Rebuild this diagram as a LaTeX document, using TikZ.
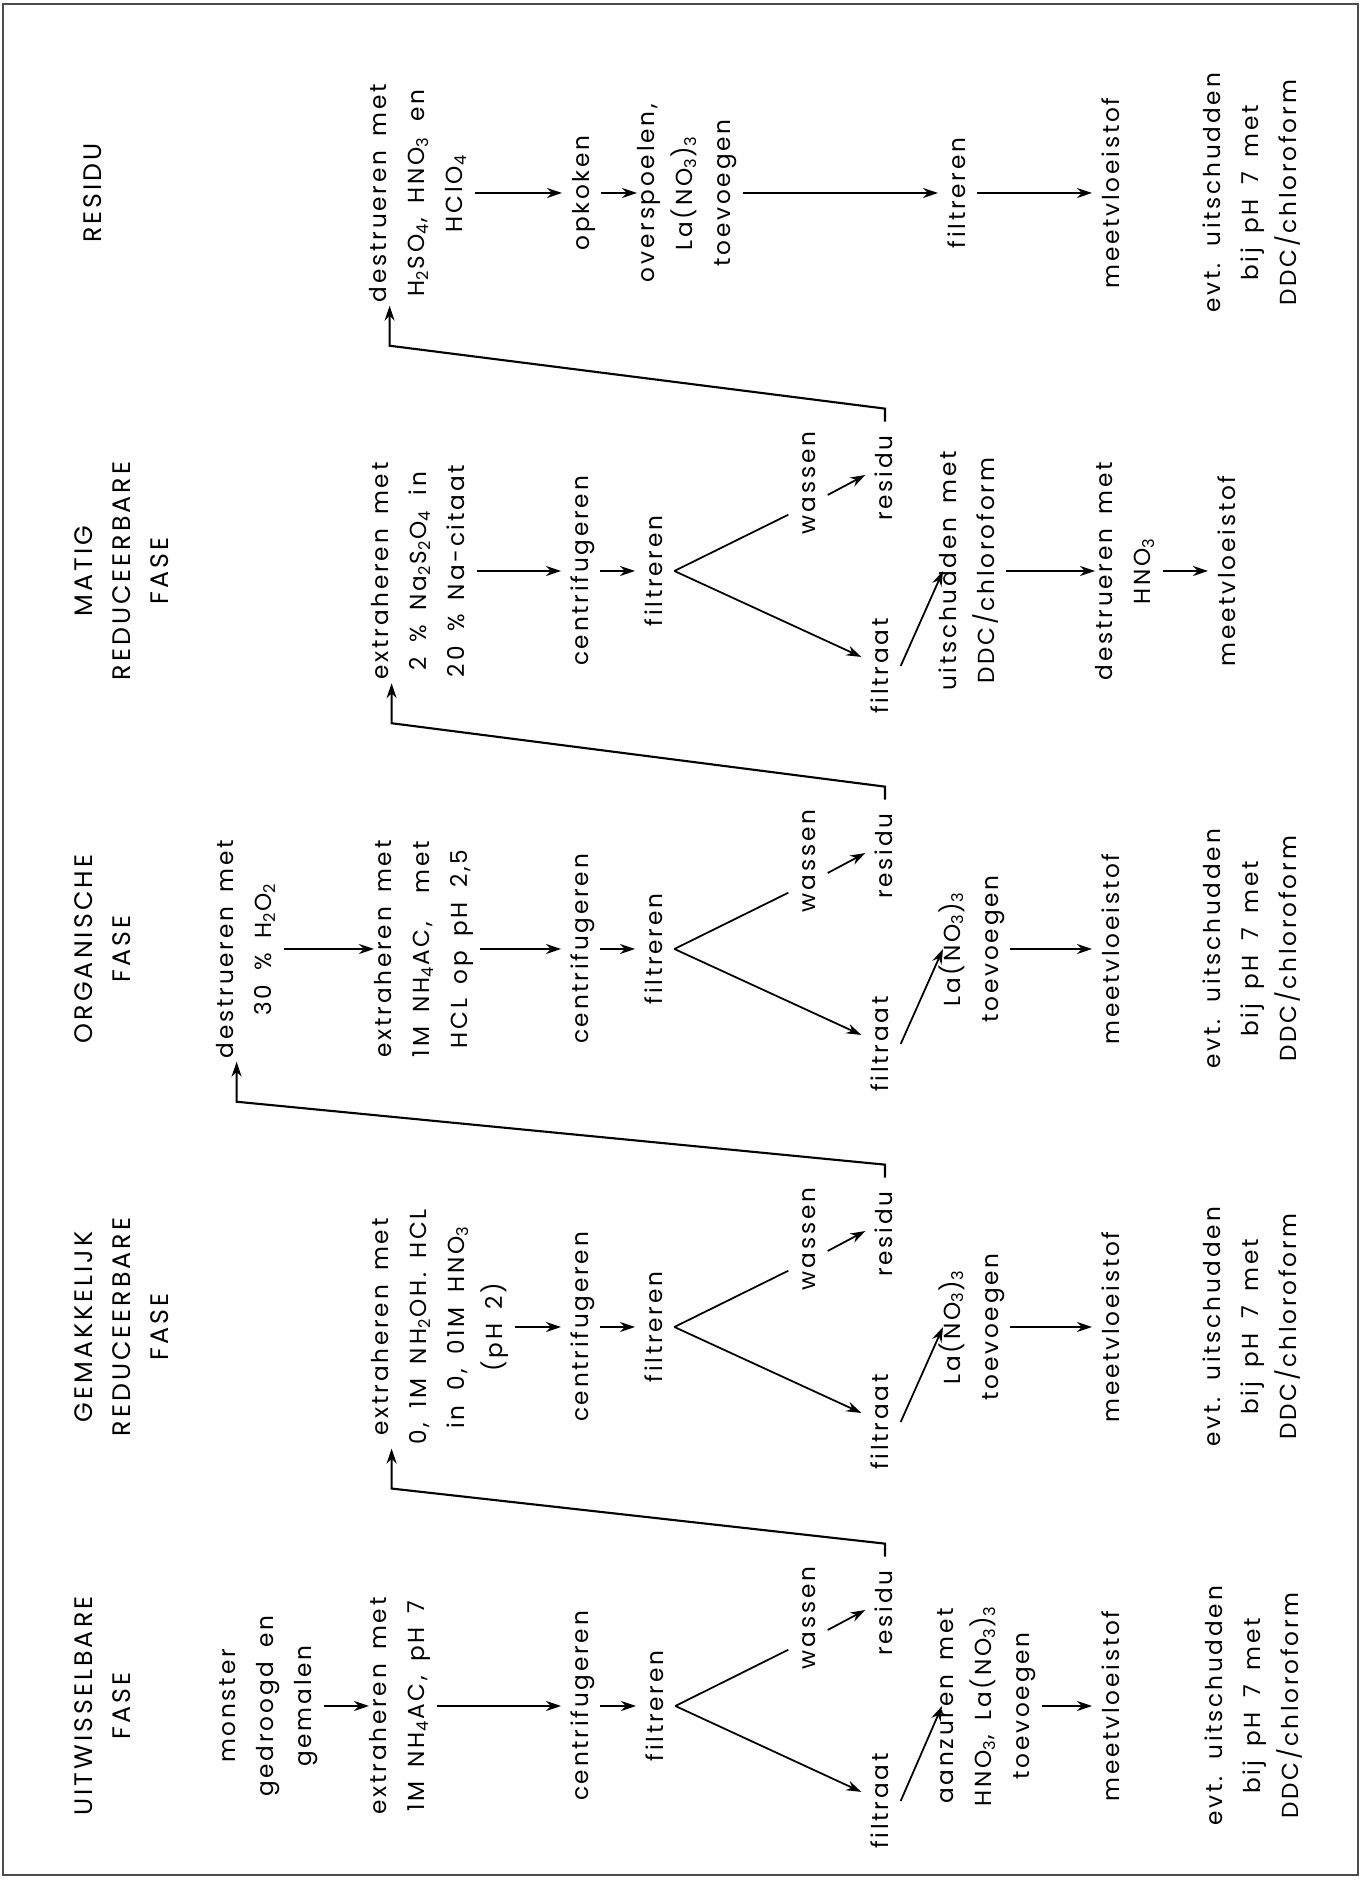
\documentclass[tikz,border=0pt]{standalone}
\usepackage{fontspec}
\setmainfont{Poppins}[LetterSpace=12,WordSpace=1.6]
\usetikzlibrary{arrows.meta}
\newcommand\stapfont{\fontsize{6.6}{10.8}\selectfont}
\newcommand\kopfont{\fontsize{7.2}{10.8}\selectfont}
\newcommand\chsub[1]{\textsubscript{#1}}
\begin{document}
\begin{tikzpicture}[x=1mm,y=1mm,rotate=90,transform shape,
  stap/.style={inner sep=0pt,align=center,font=\stapfont,
    execute at begin node=\strut,execute at end node=\strut},
  kop/.style={stap,font=\kopfont},
  residu/.style={stap,inner xsep=1.3mm},
  pijl/.style={-{Stealth[length=1.5mm,width=1mm]},line width=0.5pt},
  tak/.style={line width=0.5pt},
  terug/.style={pijl,line width=0.6pt,shorten >=0.3mm}]
\useasboundingbox (0,-136.7) rectangle (188.2,0);
\draw[line width=0.8pt,black!70] (0.7,-135.8) rectangle (187.8,-0.3);

% uitwisselbare fase
\node[kop,anchor=north] (k1) at (17.6,-7.4) {UITWISSELBARE\\FASE};
\node[stap,anchor=north] (m1) at (17.6,-21.9) {monster\\gedroogd en\\gemalen};
\node[stap,anchor=north] (e1) at (17.6,-36.9) {extraheren met\\1M NH\chsub{4}AC, pH 7};
\node[stap,anchor=north] (c1) at (17.6,-56.1) {centrifugeren};
\node[stap,anchor=north] (f1) at (17.6,-63.6) {filtreren};
\node[stap] (w1) at (26.4,-80.8) {wassen};
\node[residu] (r1) at (26.9,-88.5) {residu};
\node[stap] (t1) at (8.1,-88.1) {filtraat};
\node[stap,anchor=north] (a1) at (17.6,-93.7) {aanzuren met\\HNO\chsub{3}, La(NO\chsub{3})\chsub{3}\\toevoegen};
\node[stap,anchor=north] (v1) at (17.6,-109.2) {meetvloeistof};
\node[stap,anchor=north] (x1) at (17.6,-120.4) {evt. uitschudden\\bij pH 7 met\\DDC/chloroform};
\draw[pijl] (m1.south) -- (e1.north);
\draw[pijl] (e1.south) -- (c1.north);
\draw[pijl] (c1.south) -- (f1.north);
\draw[tak] (f1.south) -- ([xshift=2mm]w1.north west);
\draw[pijl] (f1.south) -- (t1);
\draw[pijl] ([xshift=-1.2mm]w1.south) -- ([xshift=0.3mm]r1.north);
\draw[pijl] (t1.south) -- ([yshift=-0.5mm]a1.north);
\draw[pijl] (a1.south) -- (v1.north);

% gemakkelijk reduceerbare fase
\node[kop,anchor=north] (k2) at (55.5,-7.4) {GEMAKKELIJK\\REDUCEERBARE\\FASE};
\node[stap,anchor=north] (e2) at (55.5,-37.1) {extraheren met\\0, 1M NH\chsub{2}OH. HCL\\in 0, 01M HNO\chsub{3}\\(pH 2)};
\node[stap,anchor=north] (c2) at (55.5,-56.1) {centrifugeren};
\node[stap,anchor=north] (f2) at (55.5,-63.5) {filtreren};
\node[stap] (w2) at (64.3,-80.8) {wassen};
\node[residu] (r2) at (64.8,-88.5) {residu};
\node[stap] (t2) at (46.0,-88.1) {filtraat};
\node[stap,anchor=north] (a2) at (55.5,-93.8) {La(NO\chsub{3})\chsub{3}\\toevoegen};
\node[stap,anchor=north] (v2) at (55.5,-109.2) {meetvloeistof};
\node[stap,anchor=north] (x2) at (55.5,-120.2) {evt. uitschudden\\bij pH 7 met\\DDC/chloroform};
\draw[pijl] (e2.south) -- (c2.north);
\draw[pijl] (c2.south) -- (f2.north);
\draw[tak] (f2.south) -- ([xshift=2mm]w2.north west);
\draw[pijl] (f2.south) -- (t2);
\draw[pijl] ([xshift=-1.2mm]w2.south) -- ([xshift=0.3mm]r2.north);
\draw[pijl] (t2.south) -- ([yshift=-0.5mm]a2.north);
\draw[pijl] (a2.south) -- (v2.north);

% organische fase
\node[kop,anchor=north] (k3) at (93.3,-7.4) {ORGANISCHE\\FASE};
\node[stap,anchor=north] (d3) at (93.3,-21.6) {destrueren met\\30 \% H\chsub{2}O\chsub{2}};
\node[stap,anchor=north] (e3) at (93.3,-37.4) {extraheren met\\1M NH\chsub{4}AC,~~met\\HCL op pH 2,5};
\node[stap,anchor=north] (c3) at (93.3,-56.1) {centrifugeren};
\node[stap,anchor=north] (f3) at (93.3,-63.5) {filtreren};
\node[stap] (w3) at (102.1,-80.8) {wassen};
\node[residu] (r3) at (102.6,-88.5) {residu};
\node[stap] (t3) at (83.8,-88.1) {filtraat};
\node[stap,anchor=north] (a3) at (93.3,-93.8) {La(NO\chsub{3})\chsub{3}\\toevoegen};
\node[stap,anchor=north] (v3) at (93.3,-109.2) {meetvloeistof};
\node[stap,anchor=north] (x3) at (93.3,-120.2) {evt. uitschudden\\bij pH 7 met\\DDC/chloroform};
\draw[pijl] (d3.south) -- (e3.north);
\draw[pijl] (e3.south) -- (c3.north);
\draw[pijl] (c3.south) -- (f3.north);
\draw[tak] (f3.south) -- ([xshift=2mm]w3.north west);
\draw[pijl] (f3.south) -- (t3);
\draw[pijl] ([xshift=-1.2mm]w3.south) -- ([xshift=0.3mm]r3.north);
\draw[pijl] (t3.south) -- ([yshift=-0.5mm]a3.north);
\draw[pijl] (a3.south) -- (v3.north);

% matig reduceerbare fase
\node[kop,anchor=north] (k4) at (131.1,-7.4) {MATIG\\REDUCEERBARE\\FASE};
\node[stap,anchor=north] (e4) at (131.1,-37.1) {extraheren met\\2 \% Na\chsub{2}S\chsub{2}O\chsub{4} in\\20 \% Na-citaat};
\node[stap,anchor=north] (c4) at (131.1,-56.1) {centrifugeren};
\node[stap,anchor=north] (f4) at (131.1,-63.5) {filtreren};
\node[stap] (w4) at (139.9,-80.8) {wassen};
\node[residu] (r4) at (140.4,-88.5) {residu};
\node[stap] (t4) at (121.6,-88.1) {filtraat};
\node[stap,anchor=north] (u4) at (131.1,-93.8) {uitschudden met\\DDC/chloroform};
\node[stap,anchor=north] (d4) at (131.1,-109.5) {destrueren met\\HNO\chsub{3}};
\node[stap,anchor=north] (v4) at (131.1,-120.8) {meetvloeistof};
\draw[pijl] (e4.south) -- (c4.north);
\draw[pijl] (c4.south) -- (f4.north);
\draw[tak] (f4.south) -- ([xshift=2mm]w4.north west);
\draw[pijl] (f4.south) -- (t4);
\draw[pijl] ([xshift=-1.2mm]w4.south) -- ([xshift=0.3mm]r4.north);
\draw[pijl] (t4.south) -- ([yshift=-0.5mm]u4.north);
\draw[pijl] (u4.south) -- (d4.north);
\draw[pijl] (d4.south) -- (v4.north);

% residu
\node[kop,anchor=north] (k5) at (168.9,-7.4) {RESIDU};
\node[stap,anchor=north] (d5) at (168.9,-36.9) {destrueren met\\H\chsub{2}SO\chsub{4}, HNO\chsub{3} en\\HClO\chsub{4}};
\node[stap,anchor=north] (o5) at (168.9,-56.2) {opkoken};
\node[stap,anchor=north] (s5) at (168.9,-63.7) {overspoelen,\\La(NO\chsub{3})\chsub{3}\\toevoegen};
\node[stap,anchor=north] (f5) at (168.9,-93.8) {filtreren};
\node[stap,anchor=north] (v5) at (168.9,-109.2) {meetvloeistof};
\node[stap,anchor=north] (x5) at (168.9,-120.2) {evt. uitschudden\\bij pH 7 met\\DDC/chloroform};
\draw[pijl] (d5.south) -- (o5.north);
\draw[pijl] (o5.south) -- (s5.north);
\draw[pijl] (s5.south) -- (f5.north);
\draw[pijl] (f5.south) -- (v5.north);

% residu naar de volgende fase
\draw[terug] (r1.east) -- ++(1.3,0) -- ([xshift=-4.3mm,yshift=-2.06mm]e2.north west) -- ([yshift=-2.06mm]e2.north west);
\draw[terug] (r2.east) -- ++(1.3,0) -- ([xshift=-4.3mm,yshift=-2.06mm]d3.north west) -- ([yshift=-2.06mm]d3.north west);
\draw[terug] (r3.east) -- ++(1.3,0) -- ([xshift=-4.3mm,yshift=-2.06mm]e4.north west) -- ([yshift=-2.06mm]e4.north west);
\draw[terug] (r4.east) -- ++(1.3,0) -- ([xshift=-4.3mm,yshift=-2.06mm]d5.north west) -- ([yshift=-2.06mm]d5.north west);
\end{tikzpicture}
\end{document}
